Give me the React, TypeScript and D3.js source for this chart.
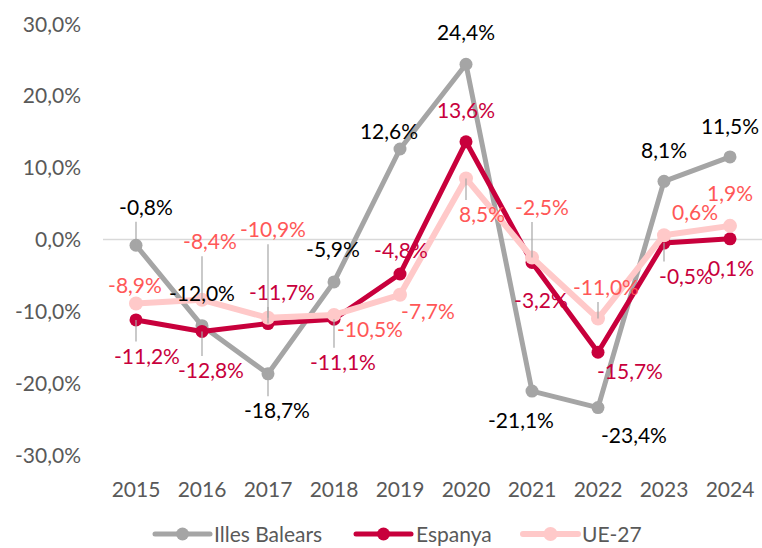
import React from 'react'
import * as d3 from 'd3'

// anys i sèries (taxa de variació, %)
const years = ['2015', '2016', '2017', '2018', '2019', '2020', '2021', '2022', '2023', '2024']
const illesBalears = [-0.8, -12.0, -18.7, -5.9, 12.6, 24.4, -21.1, -23.4, 8.1, 11.5]
const espanya = [-11.2, -12.8, -11.7, -11.1, -4.8, 13.6, -3.2, -15.7, -0.5, 0.1]
const ue27 = [-8.9, -8.4, -10.9, -10.5, -7.7, 8.5, -2.5, -11.0, 0.6, 1.9]
const yTicks = [-30, -20, -10, 0, 10, 20, 30]

// on va cada etiqueta respecte al punt (px) i si porta línia guia
const illesLabels: [number, number, boolean][] = [
  [10, -38, true], [0, -32, false], [9, 37, true], [-1, -32, false], [-11, -18, false],
  [0, -32, false], [-11, 29, false], [36, 28, false], [0, -31, false], [0, -30, false]
]
const espanyaLabels: [number, number, boolean][] = [
  [11, 36, true], [9, 39, true], [14, -31, true], [9, 43, true], [1, -24, false],
  [0, -31, false], [9, 38, false], [32, 19, false], [22, 33, true], [1, 30, false]
]
const ueLabels: [number, number, boolean][] = [
  [-1, -18, false], [8, -58, true], [5, -88, true], [36, 15, false], [28, 17, false],
  [16, 36, true], [10, -50, true], [8, -31, true], [31, -23, false], [0, -32, false]
]

const width = 762
const height = 548
const font = 'Lato, "Open Sans", sans-serif'
const fmt = (v: number) => v.toFixed(1).replace('.', ',') + '%'

const series = [
  { name: 'Illes Balears', values: illesBalears, labels: illesLabels, color: '#A5A5A5', text: '#000000', stroke: 5, r: 6.5 },
  { name: 'Espanya', values: espanya, labels: espanyaLabels, color: '#C8003C', text: '#C8003C', stroke: 5, r: 6.5 },
  { name: 'UE-27', values: ue27, labels: ueLabels, color: '#FFC9C9', text: '#FF5757', stroke: 6, r: 7 }
]

export default function App() {
  const x = d3.scalePoint<string>().domain(years).range([136, 730])
  const y = d3.scaleLinear().domain([-30, 30]).range([455, 24])

  const line = d3
    .line<number>()
    .x((d, i) => x(years[i]) as number)
    .y(d => y(d))

  const fontSize = 21
  const labelEls: JSX.Element[] = []
  const leaderEls: JSX.Element[] = []
  series.forEach((s, si) => {
    s.values.forEach((v, i) => {
      const px = x(years[i]) as number
      const py = y(v)
      const [dx, dy, lead] = s.labels[i]
      const cx = px + dx
      const cy = py + dy
      const text = fmt(v)
      if (lead) {
        const hw = text.length * fontSize * 0.27 + 3
        const hh = fontSize * 0.5 + 4
        const tx = Math.max(cx - hw, Math.min(cx + hw, px))
        const ty = Math.max(cy - hh, Math.min(cy + hh, py))
        leaderEls.push(
          <line key={`l${si}-${i}`} x1={px} y1={py} x2={tx} y2={ty} stroke="#A6A6A6" strokeWidth={1.2} />
        )
      }
      labelEls.push(
        <text key={`t${si}-${i}`} x={cx} y={cy} dy="0.36em" textAnchor="middle" fill={s.text} fontSize={fontSize}>
          {text}
        </text>
      )
    })
  })

  const legendItems = [
    { lx: 155, tx: 214 },
    { lx: 356, tx: 416 },
    { lx: 523, tx: 582 }
  ]
  const legendY = 534

  return (
    <svg width={width} height={height} style={{ position: 'absolute', left: 0, top: 0, background: '#fff' }} fontFamily={font}>
      {/* eixos */}
      <line x1={103} x2={762} y1={y(0)} y2={y(0)} stroke="#D9D9D9" strokeWidth={1.5} />
      {yTicks.map(t => (
        <text key={t} x={81} y={y(t)} dy="0.36em" textAnchor="end" fill="#595959" fontSize={fontSize}>
          {fmt(t)}
        </text>
      ))}
      {years.map(yr => (
        <text key={yr} x={x(yr)} y={489} dy="0.36em" textAnchor="middle" fill="#595959" fontSize={fontSize}>
          {yr}
        </text>
      ))}

      {series.map(s => (
        <g key={s.name}>
          <path d={line(s.values) || ''} fill="none" stroke={s.color} strokeWidth={s.stroke} strokeLinejoin="round" />
          {s.values.map((v, i) => (
            <circle key={i} cx={x(years[i])} cy={y(v)} r={s.r} fill={s.color} />
          ))}
        </g>
      ))}

      {leaderEls}
      {labelEls}

      {/* llegenda */}
      {series.map((s, i) => (
        <g key={'lg' + s.name}>
          <line x1={legendItems[i].lx} x2={legendItems[i].lx + 55} y1={legendY} y2={legendY} stroke={s.color} strokeWidth={s.stroke} strokeLinecap="round" />
          <circle cx={legendItems[i].lx + 27.5} cy={legendY} r={s.r} fill={s.color} />
          <text x={legendItems[i].tx} y={legendY} dy="0.36em" fill="#595959" fontSize={fontSize}>
            {s.name}
          </text>
        </g>
      ))}
    </svg>
  )
}
